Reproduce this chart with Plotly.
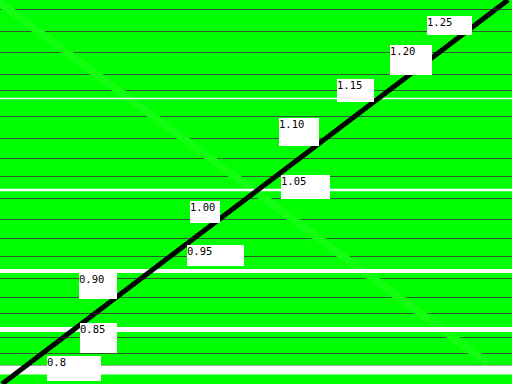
import plotly.graph_objects as go

# ---- data ----
labels = ["0.8", "0.85", "0.90", "0.95", "1.00", "1.05", "1.10", "1.15", "1.20", "1.25"]
label_x = [0.799, 0.835, 0.834, 0.951, 0.954, 1.053, 1.051, 1.114, 1.172, 1.212]
label_y = [0.790, 0.837, 0.909, 0.949, 1.012, 1.049, 1.131, 1.187, 1.236, 1.277]

diag_x = [0.75, 1.30]
diag_y = [0.75, 1.30]

anti_x = [0.745, 1.278]
anti_y = [1.298, 0.780]

grid_levels = [1.2871, 1.2542, 1.2241, 1.1940, 1.1697, 1.1338, 1.1023, 1.0737, 1.0465,
               1.0150, 0.9863, 0.9577, 0.9333, 0.9004, 0.8746, 0.8503, 0.8173, 0.7930, 0.7772]

white_levels = [1.1589, 1.0279, 0.9118, 0.8281, 0.7701]

# ---- styles ----
box_w = [54, 37, 38, 57, 30, 49, 40, 37, 42, 45]
box_h = [25, 30, 26, 21, 22, 24, 28, 23, 30, 19]
white_w = [1.5, 2.5, 4, 5, 9]
GREEN = "#00ff00"
XR = [0.7478, 1.3043]
YR = [0.75, 1.30]

fig = go.Figure()

fig.add_trace(go.Scatter(x=anti_x, y=anti_y, mode="lines",
                         line=dict(color="#12ff12", width=8),
                         hoverinfo="skip", showlegend=False))

for lv, w in zip(white_levels, white_w):
    fig.add_trace(go.Scatter(x=[XR[0] - 0.05, XR[1] + 0.05], y=[lv, lv], mode="lines",
                             line=dict(color="white", width=w),
                             hoverinfo="skip", showlegend=False))

fig.add_trace(go.Scatter(x=diag_x, y=diag_y, mode="lines",
                         line=dict(color="black", width=5),
                         hoverinfo="skip", showlegend=False))

for t, lx, ly, w, h in zip(labels, label_x, label_y, box_w, box_h):
    fig.add_annotation(x=lx, y=ly, xref="x", yref="y", text=t, showarrow=False,
                       xanchor="left", yanchor="top", align="left", valign="top",
                       width=w, height=h, bgcolor="white", borderpad=0, borderwidth=0,
                       font=dict(family="DejaVu Sans Mono", size=10.5, color="black"))

fig.update_layout(
    width=512, height=384,
    margin=dict(l=0, r=0, t=0, b=0),
    paper_bgcolor=GREEN, plot_bgcolor=GREEN,
    showlegend=False,
    xaxis=dict(range=XR, showgrid=False, zeroline=False, showticklabels=False,
               ticks="", showline=False, fixedrange=True),
    yaxis=dict(range=YR, tickmode="array", tickvals=grid_levels, showgrid=True,
               gridcolor="#2f5a2f", gridwidth=1, zeroline=False, showticklabels=False,
               ticks="", showline=False, fixedrange=True),
)

fig.write_html("out.html")
